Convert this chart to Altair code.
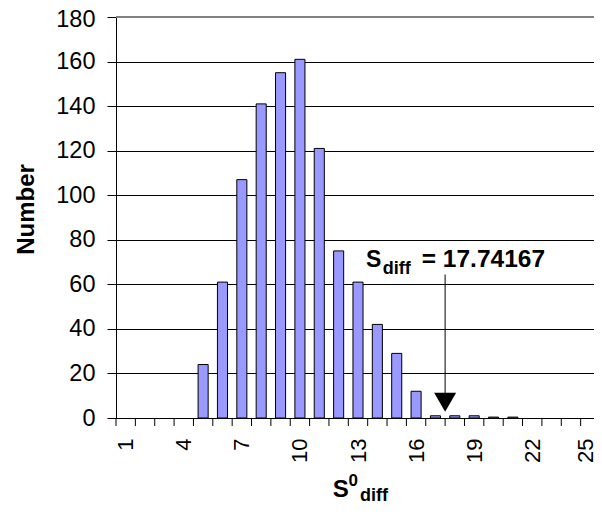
import altair as alt
import pandas as pd

FONT = "Liberation Sans"

# ---- data ----
categories = list(range(1, 26))
counts = [0, 0, 0, 0, 24, 61, 107, 141, 155, 161, 121, 75, 61, 42, 29, 12,
          1, 1, 1, 0.4, 0.4, 0, 0, 0, 0]
y_tick_values = [0, 20, 40, 60, 80, 100, 120, 140, 160, 180]
x_label_values = [1, 4, 7, 10, 13, 16, 19, 22, 25]
x_tick_values = [i + 0.5 for i in range(0, 26)]
x_domain = [0.5, 25.19]   # visible part of the category axis (last band cut by the frame)

annot_main = "S"
annot_sub = "diff"
annot_value = "= 17.74167"
arrow_x = 17.5          # where the arrow points
annot_y = 68            # text baseline level
arrow_top = 64.4
arrow_bottom = 9.3

W, H = 478, 401
PAD_L, PAD_T, PAD_R, PAD_B = 108, 9, 0, 86

df = pd.DataFrame({"cat": categories, "count": counts})
df_nz = df[df["count"] > 0].reset_index(drop=True)
df_ticks = pd.DataFrame({"b": [v for v in x_tick_values if v <= x_domain[1]]})
one = pd.DataFrame({"k": [0]})

x_scale = alt.Scale(domain=x_domain, nice=False, zero=False)
y_scale = alt.Scale(domain=[0, 180], nice=False)

y_axis = alt.Axis(values=y_tick_values, orient="left", grid=True, gridColor="black",
                  gridWidth=1, domain=True, domainColor="black", domainWidth=1,
                  ticks=True, tickColor="black", tickSize=9,
                  labelFont=FONT, labelFontSize=23.5, labelColor="black", labelPadding=12,
                  labelOffset=alt.condition("datum.value == 180", alt.value(2), alt.value(0)),
                  title="Number", titleFont=FONT, titleFontSize=24, titleFontWeight="bold",
                  titleColor="black", titleAngle=270, titleX=-83, titleY=192,
                  titleAlign="center", titleBaseline="alphabetic")

x_axis = alt.Axis(values=x_label_values, orient="bottom", labelAngle=270,
                  ticks=False, labelPadding=20, labelFont=FONT,
                  labelFontSize=22, labelColor="black", domain=True, domainColor="black",
                  domainWidth=1, grid=False, title=None, labelFlush=False,
                  labelOverlap=False,
                  labelOffset=alt.condition("datum.value == 25", alt.value(-5), alt.value(0)))

bars_base = alt.Chart(df_nz).transform_calculate(
    x0="datum.cat - 0.26", x1="datum.cat + 0.26")

shadow = bars_base.mark_bar(color="#b8b8b8", xOffset=2, yOffset=1).encode(
    x=alt.X("x0:Q", scale=x_scale, axis=None),
    x2="x1:Q",
    y=alt.Y("count:Q", scale=y_scale, axis=None),
    y2=alt.datum(0),
)

bars = bars_base.mark_bar(color="#9999FF", stroke="black", strokeWidth=1).encode(
    x=alt.X("x0:Q", scale=x_scale, axis=x_axis),
    x2="x1:Q",
    y=alt.Y("count:Q", scale=y_scale, axis=y_axis),
    y2=alt.datum(0),
)

x_ticks = alt.Chart(df_ticks).mark_rule(color="black", strokeWidth=1).encode(
    x=alt.X("b:Q", scale=x_scale, axis=None),
    y=alt.value(H),
    y2=alt.value(H + 8),
)

top_line = alt.Chart(one).mark_rule(color="#808080", strokeWidth=2).encode(
    y=alt.datum(180, scale=y_scale, axis=None))

arrow_line = alt.Chart(one).mark_rule(color="black", strokeWidth=1).encode(
    x=alt.datum(arrow_x, scale=x_scale, axis=None),
    y=alt.datum(arrow_top, scale=y_scale, axis=None),
    y2=alt.datum(arrow_bottom))

arrow_head = alt.Chart(one).mark_point(shape="triangle-down", size=484, filled=True,
                                       color="black", opacity=1, yOffset=-15.7).encode(
    x=alt.datum(arrow_x, scale=x_scale, axis=None),
    y=alt.datum(0, scale=y_scale, axis=None))

def annot(text, size, dx, dy):
    return alt.Chart(one).mark_text(text=text, font=FONT, fontSize=size,
                                    fontWeight="bold", color="black", align="left",
                                    baseline="alphabetic", dx=dx, dy=dy).encode(
        x=alt.datum(arrow_x, scale=x_scale, axis=None),
        y=alt.datum(annot_y, scale=y_scale, axis=None))

t1 = annot(annot_main, 23, -79, 0)
t2 = annot(annot_sub, 18, -62.4, 7.6)
t3 = annot(annot_value, 24.5, -23.4, 0)

def title_piece(text, size, px, py):
    return alt.Chart(one).mark_text(text=text, font=FONT, fontSize=size,
                                    fontWeight="bold", color="black", align="left",
                                    baseline="alphabetic").encode(
        x=alt.value(px), y=alt.value(py))

xt1 = title_piece("S", 24, 216.7, 480)
xt2 = title_piece("0", 17, 232.5, 469)
xt3 = title_piece("diff", 18, 244, 484)

chart = alt.layer(shadow, bars, x_ticks, top_line, arrow_line, arrow_head,
                  t1, t2, t3, xt1, xt2, xt3).resolve_axis(
    x="independent", y="independent").properties(
    width=W, height=H,
    autosize=alt.AutoSizeParams(type="none"),
    padding={"left": PAD_L, "top": PAD_T, "right": PAD_R, "bottom": PAD_B},
).configure_view(stroke=None).configure(background="white")

chart.save("out.html", embed_options={"renderer": "svg", "actions": False})
